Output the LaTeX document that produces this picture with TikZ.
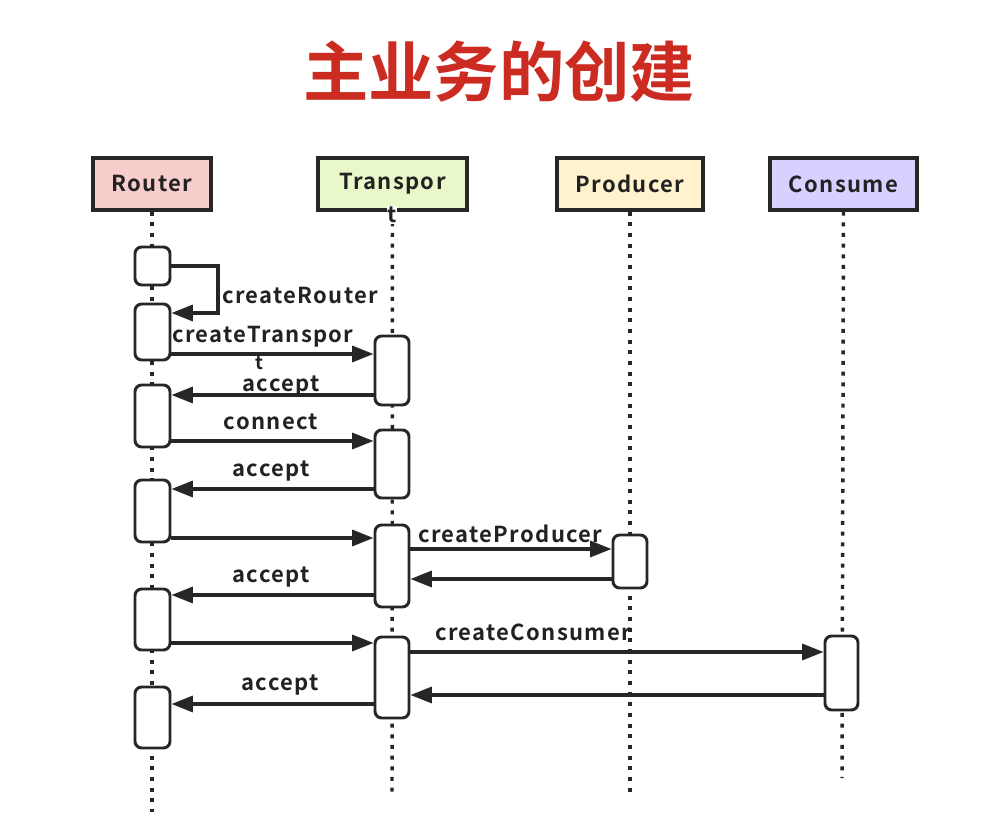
\documentclass[tikz,border=0pt]{standalone}
\usepackage{fontspec}
\usetikzlibrary{arrows.meta,fit}
\newfontfamily\cjkb{Noto Sans CJK SC Bold}
\newfontfamily\labf{Noto Sans CJK SC Bold}[LetterSpace=6]
\definecolor{titlered}{HTML}{CC2B22}
\definecolor{txt}{HTML}{222222}
\definecolor{rfill}{HTML}{F8CECC}
\definecolor{tfill}{HTML}{E8F8C8}
\definecolor{pfill}{HTML}{FFF2CC}
\definecolor{cfill}{HTML}{D8D0FF}
\tikzset{
  hdr/.style={draw=black!85, line width=2.4pt, inner sep=0pt},
  act/.style={draw=black!85, fill=white, line width=2.2pt, rounded corners=5pt, inner sep=0pt},
  life/.style={line width=2.6pt, black!85, dash pattern=on 3pt off 5pt},
  msg/.style={line width=2.3pt, black!85, -{Triangle[length=16pt,width=12pt]}},
  lbl/.style={font=\labf\fontsize{16.5}{18}\selectfont, text=txt, inner sep=0pt},
}
\begin{document}
\begin{tikzpicture}[x=0.75pt,y=-0.75pt]
\useasboundingbox (0,0) rectangle (1004,817);
\fill[white] (0,0) rectangle (1004,817);
% title
\node[font=\cjkb\fontsize{49}{52}\selectfont, text=titlered] (title) at (499,72) {主业务的创建};
% headers
\node[hdr, fill=rfill, fit={(93,158) (211,210)}] (router) {};
\node[lbl] (routerT) at (router.center) {Router};
\node[hdr, fill=tfill, fit={(318,158) (467,210)}] (transport) {};
\node[lbl] (transportT) at (transport.center) {Transpor};
\node[hdr, fill=pfill, fit={(557,158) (703,210)}] (producer) {};
\node[lbl] (producerT) at (producer.center) {Producer};
\node[hdr, fill=cfill, fit={(770,158) (917,210)}] (consumer) {};
\node[lbl] (consumerT) at (consumer.center) {Consume};
% lifeline ends
\coordinate (rEnd) at (152,812);
\coordinate (tEnd) at (392,792);
\coordinate (pEnd) at (630,792);
\coordinate (cEnd) at (842,778);
\draw[life] (router.south) -- (rEnd);
\draw[life] (transport.south) -- (tEnd);
\draw[life] (producer.south) -- (pEnd);
\draw[life] (consumer.south) -- (cEnd);
\node[lbl, fill=white, inner sep=0.5pt] (transportT2) at (392,215) {t};
% activation boxes
\node[act, fit={(135,247) (170,285)}] (r1) {};
\node[act, fit={(135,304) (170,360)}] (r2) {};
\node[act, fit={(135,385) (170,447)}] (r3) {};
\node[act, fit={(135,480) (170,542)}] (r4) {};
\node[act, fit={(135,589) (170,650)}] (r5) {};
\node[act, fit={(135,687) (170,748)}] (r6) {};
\node[act, fit={(375,336) (409,405)}] (t1) {};
\node[act, fit={(375,430) (409,498)}] (t2) {};
\node[act, fit={(375,525) (409,607)}] (t3) {};
\node[act, fit={(375,637) (409,718)}] (t4) {};
\node[act, fit={(613,535) (647,588)}] (p1) {};
\node[act, fit={(825,636) (858,710)}] (c1) {};
% self message
\coordinate (sc1) at (218,266);
\coordinate (sc2) at (218,313);
\draw[msg] (r1.east |- sc1) -- (sc1) -- (sc2) -- (r2.east |- sc2);
\node[lbl, anchor=west] (lCR) at (222,296) {createRouter};
% messages
\draw[msg] (r2.east |- 0,354) -- (t1.west |- 0,354);
\node[lbl, anchor=west] (lCT) at (172,337) {createTranspor};
\node[lbl, font=\labf\fontsize{14}{15}\selectfont] (lCT2) at (259,363) {t};
\draw[msg] (t1.west |- 0,395) -- (r3.east |- 0,395);
\node[lbl] (lA1) at (281,386) {accept};
\draw[msg] (r3.east |- 0,441) -- (t2.west |- 0,441);
\node[lbl] (lC) at (271,422) {connect};
\draw[msg] (t2.west |- 0,489) -- (r4.east |- 0,489);
\node[lbl] (lA2) at (271,471) {accept};
\draw[msg] (r4.east |- 0,538) -- (t3.west |- 0,538);
\draw[msg] (t3.east |- 0,549) -- (p1.west |- 0,549);
\node[lbl, anchor=west] (lCP) at (418,534) {createProducer};
\draw[msg] (p1.west |- 0,579) -- (t3.east |- 0,579);
\draw[msg] (t3.west |- 0,595) -- (r5.east |- 0,595);
\node[lbl] (lA3) at (271,577) {accept};
\draw[msg] (r5.east |- 0,643) -- (t4.west |- 0,643);
\draw[msg] (t4.east |- 0,652) -- (c1.west |- 0,652);
\node[lbl, anchor=west] (lCC) at (435,632) {createConsumer};
\draw[msg] (c1.west |- 0,695) -- (t4.east |- 0,695);
\draw[msg] (t4.west |- 0,704) -- (r6.east |- 0,704);
\node[lbl] (lA4) at (280,685) {accept};
\end{tikzpicture}
\end{document}
